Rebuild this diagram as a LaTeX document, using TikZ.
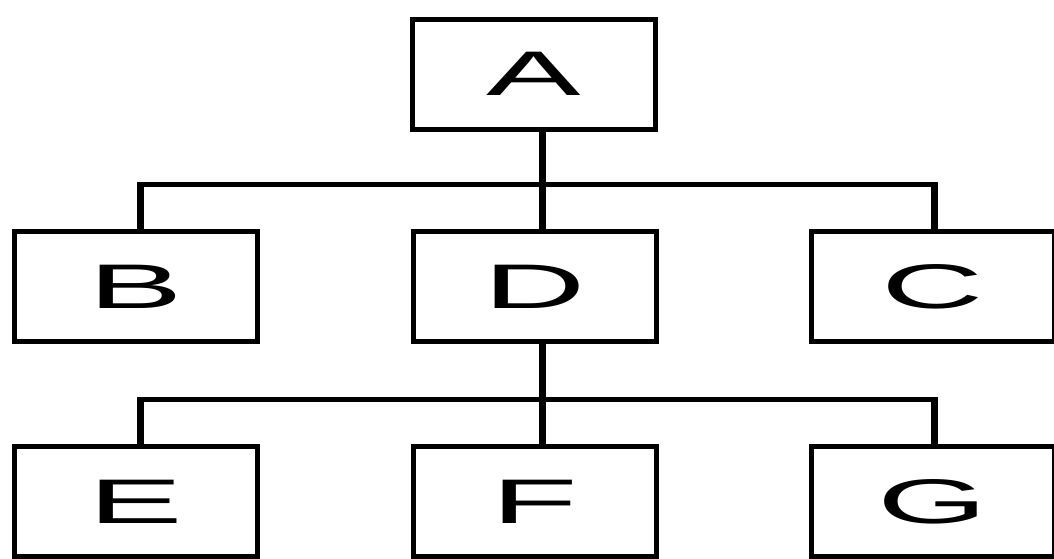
\documentclass[tikz,border=0pt]{standalone}
\usepackage{fontspec}
\setmainfont{Liberation Sans}
\usetikzlibrary{calc}
\newcommand{\wideletter}[1]{\scalebox{2.25}[1]{\fontsize{63}{63}\selectfont #1}}
\tikzset{
  orgbox/.style={draw=black, line width=5pt, minimum width=243pt, minimum height=110pt, inner sep=0pt, rectangle},
  conn/.style={draw=black, line width=5pt, line cap=rect},
  stem/.style={draw=black, line width=7pt}
}
\begin{document}
\begin{tikzpicture}[x=1pt,y=-1pt]
\useasboundingbox (0,0) rectangle (1054,558);
\node[orgbox] (A) at (534,74) {\wideletter{A}};
\node[orgbox] (B) at (135.5,286.5) {\wideletter{B}};
\node[orgbox] (D) at (534.5,286.5) {\wideletter{D}};
\node[orgbox] (C) at (932.5,286.5) {\wideletter{C}};
\node[orgbox] (E) at (135.5,501.5) {\wideletter{E}};
\node[orgbox] (F) at (534.5,501.5) {\wideletter{F}};
\node[orgbox] (G) at (932.5,501.5) {\wideletter{G}};
\coordinate (j1) at (542,184);
\coordinate (j2) at (542,399);
\coordinate (lx) at (140,0);
\coordinate (rx) at (934,0);
\coordinate (lxe) at (139,0);
\coordinate (rxe) at (935,0);
\draw[stem] (A.south -| j1) -- (D.north -| j1);
\draw[conn] (lxe |- j1) -- (rxe |- j1);
\draw[stem] (B.north -| lx) -- ($(lx |- j1)+(0,-2.5)$);
\draw[stem] (C.north -| rx) -- ($(rx |- j1)+(0,-2.5)$);
\draw[stem] (D.south -| j2) -- (F.north -| j2);
\draw[conn] (lxe |- j2) -- (rxe |- j2);
\draw[stem] (E.north -| lx) -- ($(lx |- j2)+(0,-2.5)$);
\draw[stem] (G.north -| rx) -- ($(rx |- j2)+(0,-2.5)$);
\end{tikzpicture}
\end{document}
